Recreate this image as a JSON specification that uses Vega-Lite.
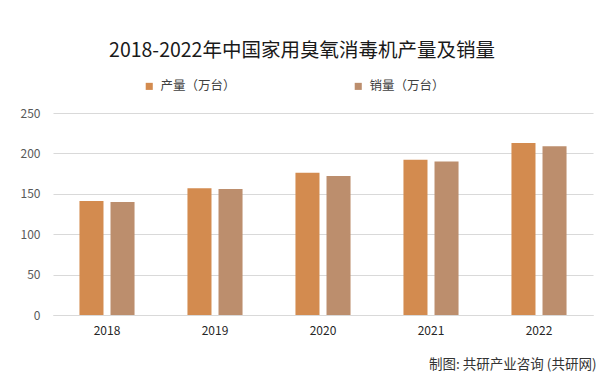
{
  "$schema": "https://vega.github.io/schema/vega-lite/v6.json",
  "width": 540,
  "height": 202,
  "autosize": {"type": "none"},
  "padding": {"left": 53, "top": 113, "right": 21, "bottom": 72},
  "background": "white",
  "config": {
    "font": "Noto Sans CJK SC",
    "view": {"stroke": null}
  },
  "title": {
    "text": "2018-2022年中国家用臭氧消毒机产量及销量",
    "fontSize": 19.5,
    "fontWeight": "normal",
    "color": "#1a1a1a",
    "anchor": "middle",
    "dx": -21,
    "offset": 19
  },
  "data": {
    "values": [
      {"year": "2018", "type": "产量（万台）", "value": 141},
      {"year": "2018", "type": "销量（万台）", "value": 140},
      {"year": "2019", "type": "产量（万台）", "value": 157},
      {"year": "2019", "type": "销量（万台）", "value": 156},
      {"year": "2020", "type": "产量（万台）", "value": 176},
      {"year": "2020", "type": "销量（万台）", "value": 172},
      {"year": "2021", "type": "产量（万台）", "value": 192},
      {"year": "2021", "type": "销量（万台）", "value": 190},
      {"year": "2022", "type": "产量（万台）", "value": 213},
      {"year": "2022", "type": "销量（万台）", "value": 209}
    ]
  },
  "mark": {"type": "bar"},
  "encoding": {
    "x": {
      "field": "year",
      "type": "nominal",
      "scale": {"paddingInner": 0.49, "paddingOuter": 0.245},
      "axis": {
        "title": "制图: 共研产业咨询 (共研网)",
        "titleFontSize": 13.5,
        "titleFontWeight": "normal",
        "titleColor": "#333333",
        "titleAnchor": "end",
        "titleAlign": "right",
        "titleBaseline": "middle",
        "titleX": 543,
        "titleY": 49,
        "labelAngle": 0,
        "labelFontSize": 12,
        "labelColor": "#262626",
        "labelPadding": 10,
        "ticks": false,
        "domainColor": "#d9d9d9",
        "grid": false
      }
    },
    "xOffset": {
      "field": "type",
      "type": "nominal",
      "scale": {"paddingInner": 0.226, "paddingOuter": 0}
    },
    "y": {
      "field": "value",
      "type": "quantitative",
      "scale": {"domain": [0, 250]},
      "axis": {
        "title": null,
        "values": [0, 50, 100, 150, 200, 250],
        "labelFontSize": 12,
        "labelColor": "#595959",
        "labelPadding": 13,
        "ticks": false,
        "domain": false,
        "gridColor": "#d9d9d9"
      }
    },
    "color": {
      "field": "type",
      "type": "nominal",
      "scale": {"range": ["#D38B4F", "#BC8E6D"]},
      "legend": {
        "title": null,
        "orient": "none",
        "direction": "horizontal",
        "legendX": 90,
        "legendY": -33,
        "symbolType": "square",
        "symbolSize": 50,
        "labelFontSize": 12.5,
        "labelColor": "#404040",
        "labelOffset": 5,
        "columnPadding": 116
      }
    }
  }
}
